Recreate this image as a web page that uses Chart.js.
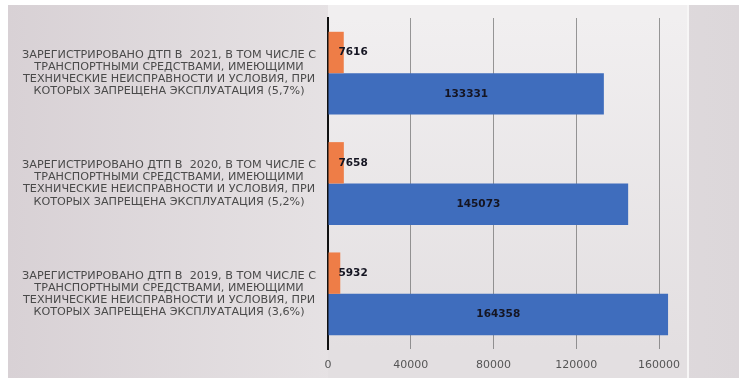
<!DOCTYPE html>
<html>
<head>
<meta charset="utf-8">
<script src="https://cdn.jsdelivr.net/npm/chart.js@4"></script>
<style>
  html, body { margin: 0; padding: 0; background: #fff; }
  #wrap { width: 744px; height: 381px; }
</style>
</head>
<body>
<div id="wrap"><canvas id="grafico"></canvas></div>
<script>
// Categorias (de arriba hacia abajo)
const categorias = [
    ['ЗАРЕГИСТРИРОВАНО ДТП В  2021, В ТОМ ЧИСЛЕ С', 'ТРАНСПОРТНЫМИ СРЕДСТВАМИ, ИМЕЮЩИМИ', 'ТЕХНИЧЕСКИЕ НЕИСПРАВНОСТИ И УСЛОВИЯ, ПРИ', 'КОТОРЫХ ЗАПРЕЩЕНА ЭКСПЛУАТАЦИЯ (5,7%)'],
    ['ЗАРЕГИСТРИРОВАНО ДТП В  2020, В ТОМ ЧИСЛЕ С', 'ТРАНСПОРТНЫМИ СРЕДСТВАМИ, ИМЕЮЩИМИ', 'ТЕХНИЧЕСКИЕ НЕИСПРАВНОСТИ И УСЛОВИЯ, ПРИ', 'КОТОРЫХ ЗАПРЕЩЕНА ЭКСПЛУАТАЦИЯ (5,2%)'],
    ['ЗАРЕГИСТРИРОВАНО ДТП В  2019, В ТОМ ЧИСЛЕ С', 'ТРАНСПОРТНЫМИ СРЕДСТВАМИ, ИМЕЮЩИМИ', 'ТЕХНИЧЕСКИЕ НЕИСПРАВНОСТИ И УСЛОВИЯ, ПРИ', 'КОТОРЫХ ЗАПРЕЩЕНА ЭКСПЛУАТАЦИЯ (3,6%)']
];
// Series
const conNeispravnostyami = [7616, 7658, 5932];
const vsegoDtp = [133331, 145073, 164358];
// Eje X
const ejeMin = 0;
const ejeMax = 174000;
const ticksX = [0, 40000, 80000, 120000, 160000];

// Fondo tipo escaneo
const fondo = {
    id: 'fondo',
    beforeDraw(chart) {
        const ctx = chart.ctx;
        const a = chart.chartArea;
        ctx.save();
        ctx.fillStyle = '#ffffff';
        ctx.fillRect(0, 0, chart.width, chart.height);
        let g = ctx.createLinearGradient(8, 0, 740, 0);
        g.addColorStop(0, '#d8d1d5');
        g.addColorStop(0.45, '#e6e2e4');
        g.addColorStop(1, '#dcd7da');
        ctx.fillStyle = g;
        ctx.fillRect(8, 5, 731, 373);
        let g2 = ctx.createLinearGradient(0, a.top, 0, a.bottom);
        g2.addColorStop(0, '#f1eff0');
        g2.addColorStop(1, '#e3dfe1');
        ctx.fillStyle = g2;
        ctx.fillRect(a.left, 5, a.right - a.left, 373);
        ctx.strokeStyle = '#f7f6f6';
        ctx.lineWidth = 2;
        ctx.beginPath();
        ctx.moveTo(a.right, 5);
        ctx.lineTo(a.right, 378);
        ctx.stroke();
        ctx.restore();
    }
};

// Etiquetas de datos
const etiquetas = {
    id: 'etiquetas',
    afterDatasetsDraw(chart) {
        const ctx = chart.ctx;
        ctx.save();
        ctx.font = 'bold 10.5px "DejaVu Sans"';
        ctx.fillStyle = '#151522';
        ctx.textBaseline = 'middle';
        chart.data.datasets.forEach((ds, i) => {
            const meta = chart.getDatasetMeta(i);
            meta.data.forEach((bar, j) => {
                const texto = String(ds.data[j]);
                if (i === 0) {
                    ctx.textAlign = 'left';
                    ctx.fillText(texto, bar.base + 10, bar.y);
                } else {
                    ctx.textAlign = 'center';
                    ctx.fillText(texto, (bar.base + bar.x) / 2, bar.y);
                }
            });
        });
        ctx.restore();
    }
};

const ctx = document.getElementById('grafico').getContext('2d');
new Chart(ctx, {
    type: 'bar',
    data: {
        labels: categorias,
        datasets: [
            {
                label: 'ДТП с транспортными средствами, имеющими неисправности',
                data: conNeispravnostyami,
                backgroundColor: '#ee7d47'
            },
            {
                label: 'Зарегистрировано ДТП',
                data: vsegoDtp,
                backgroundColor: '#3f6dbd'
            }
        ]
    },
    options: {
        indexAxis: 'y',
        responsive: true,
        maintainAspectRatio: false,
        animation: false,
        layout: { padding: { left: 8, right: 56, top: 18, bottom: 0 } },
        datasets: { bar: { categoryPercentage: 0.75, barPercentage: 1 } },
        plugins: {
            legend: { display: false },
            tooltip: { enabled: false }
        },
        scales: {
            x: {
                min: ejeMin,
                max: ejeMax,
                afterFit: s => { s.height = 32; },
                afterBuildTicks: s => { s.ticks = ticksX.map(v => ({ value: v })); },
                ticks: {
                    callback: v => String(v),
                    padding: 10,
                    color: '#555555',
                    font: { family: '"DejaVu Sans"', size: 11 }
                },
                grid: { color: 'rgba(100,100,100,0.65)', lineWidth: 1, tickLength: 0 },
                border: { display: false }
            },
            y: {
                afterFit: s => { s.width = 320; s.paddingTop = 0; s.paddingBottom = 0; },
                ticks: {
                    crossAlign: 'center',
                    padding: 4,
                    color: '#4a4a4a',
                    font: { family: '"DejaVu Sans"', size: 11.2, lineHeight: 1.08 }
                },
                grid: { display: false },
                border: { display: true, color: '#111111', width: 2 }
            }
        }
    },
    plugins: [fondo, etiquetas]
});
</script>
</body>
</html>
